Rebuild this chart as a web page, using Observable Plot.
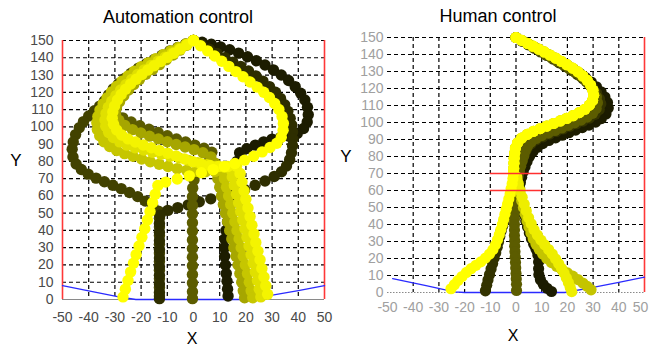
<!DOCTYPE html>
<html><head><meta charset="utf-8">
<script src="https://cdn.jsdelivr.net/npm/d3@7"></script>
<script src="https://cdn.jsdelivr.net/npm/@observablehq/plot@0.6"></script>
<style>
html,body{margin:0;padding:0;background:#fff;}
#wrap{position:relative;width:650px;height:349px;overflow:hidden;font-family:"Liberation Sans",Arial,sans-serif;}
.panel{position:absolute;top:0;}
#overlay{position:absolute;left:0;top:0;}
</style></head><body><div id="wrap"></div>
<script>
// ---------- tick labels ----------
const xTicks = [-50,-40,-30,-20,-10,0,10,20,30,40,50];
const yTicks = [0,10,20,30,40,50,60,70,80,90,100,110,120,130,140,150];
const xGrid = [-40,-30,-20,-10,0,10,20,30,40];
const yGrid = [10,20,30,40,50,60,70,80,90,100,110,120,130,140,150];
const titles = ["Automation control", "Human control"];

// ---------- boundary / target lines ----------
const blueLeft  = [[-50,8],[-40,5],[-29,1.7],[-22,0],[22,0],[29,2.2],[40,5.2],[50,8]];
const blueRight = [[-48,8.2],[-35,4],[-24,0.4],[-20,0],[19,0],[30,3],[40,5.9],[50,9]];
const redVerticalLeft = [-50, 50];
const redVerticalRight = [50];
const redGateY = [70, 60];
const redGateX = [-10, 10];

// ---------- Automation control trajectories ----------
const autoA = [[0,150],[3.3,149],[6.8,147.8],[10.3,146.3],[13.8,144.6],[17.2,142.7],[20.6,140.6],[24,138.3],[27.3,135.8],[30.5,133],[33.5,130],[36.3,126.8],[38.8,123.3],[40.9,119.5],[42.5,115.5],[43.5,111.3],[43.8,107],[43.4,102.8],[42,99],[39.6,96.2],[36.5,94.6],[33.2,93.8],[30,92.9],[26.8,91.3],[23.6,89.4],[20.4,87.4],[17.6,85],[16.6,80],[16.1,75],[15.6,70],[15.1,65],[14.6,60],[14.1,55],[13.6,50],[13,45],[12.4,40],[11.9,35],[11.8,30],[11.9,25],[12.2,20],[12.5,15],[12.8,10.5],[13,6],[13.2,2]];
const autoB = [[0,150],[3,147.5],[6,145],[9,142.5],[12,140],[15,137.5],[18,135],[21,132.3],[23.8,129.5],[26.5,126.5],[29,123.3],[31.3,120],[33.2,116.5],[34.8,112.8],[36,109],[36.9,105],[37.5,101],[37.8,97],[37.9,93],[37.8,89],[37.4,85],[36.7,81],[35.5,77.3],[33.6,74],[30.8,71.2],[27.3,68.6],[23.5,66.2],[19.5,63.7],[15.3,61.5],[11,59.8],[6.6,58.3],[2.2,56.6],[-2,54.8],[-6,53.2],[-9.8,51.6],[-12.8,48.8],[-13,44],[-13,39],[-13,34],[-13,29],[-13,24],[-13,19],[-13,14],[-13,9],[-13,4],[-13,0.5]];
const autoC = [[0,150],[-3,148],[-6,146],[-9,144],[-12,141.5],[-15,139],[-18,136.5],[-21,134],[-23.8,131],[-26.3,128],[-28.6,125],[-30.6,122],[-32.4,118.5],[-34,115],[-35.8,112],[-37.8,109.3],[-40,106.3],[-42,103],[-43.6,99.5],[-45,95.5],[-45.9,91.2],[-46.3,87],[-46,82.5],[-44.8,78.5],[-42.8,75.3],[-40.2,72.6],[-37.2,70.3],[-34,68.2],[-30.8,66.2],[-27.6,64.2],[-24.4,62],[-21.3,59.6],[-18.4,57],[-15.6,54.4],[-13.4,51.2],[-13,47],[-13,42],[-13,37],[-13,32],[-13,27],[-13,22],[-13,17],[-13,12],[-13,7],[-13,2]];
const autoO = [[0,150],[-2.8,147.5],[-5.6,145],[-8.4,142.5],[-11.2,140],[-14,137.5],[-16.8,135],[-19.5,132.4],[-22,129.6],[-24.3,126.6],[-26.3,123.4],[-28,120],[-29.6,116.5],[-31.2,113.2],[-31.5,110],[-29.6,107.4],[-27,105.2],[-23.8,102.8],[-20.5,100.6],[-17,98.6],[-13.5,96.7],[-10,94.8],[-6.5,93],[-3,91.2],[0.5,89.4],[4,87.6],[7,85.3],[6.2,81],[4,77.2],[1.8,73.4],[0.2,69.2],[-0.3,64.5],[-0.4,59.5],[-0.4,54.5],[-0.4,49.5],[-0.4,44.5],[-0.4,39.5],[-0.4,34.5],[-0.4,29.5],[-0.4,24.5],[-0.4,19.5],[-0.4,14.5],[-0.4,9.5],[-0.4,4.5],[-0.4,0.5]];
const autoY5 = [[0,150],[-2.6,147.2],[-5.2,144.4],[-7.8,141.6],[-10.4,138.8],[-13,136],[-15.6,133.2],[-18.2,130.4],[-20.6,127.5],[-22.8,124.5],[-24.8,121.3],[-26.6,118],[-28.2,114.6],[-29.4,111],[-29.8,107.3],[-28.5,103.8],[-26.2,100.8],[-23.3,98.4],[-20.1,96.4],[-16.8,94.6],[-13.4,93],[-10,91.4],[-6.6,89.8],[-3.2,88.3],[0.2,86.8],[3.6,85],[6.6,82.6],[8.2,79],[8.6,75],[9.3,70],[10,65],[10.7,60],[11.4,55],[12.2,50],[13,45],[13.8,40],[14.6,35],[15.4,30],[16.2,25],[17,20],[17.7,15],[18.4,10],[19,5],[19.5,1]];
const autoY4 = [[0,150],[-2.9,148],[-5.8,146],[-8.7,144],[-11.6,141.8],[-14.4,139.5],[-17.2,137.2],[-20,134.8],[-22.6,132.2],[-25,129.4],[-27.3,126.5],[-29.4,123.4],[-31.3,120.2],[-33,116.8],[-34.5,113.3],[-35.7,109.7],[-36.5,106],[-36.9,102.3],[-36.7,98.5],[-35.8,94.8],[-34.2,91.4],[-32,88.6],[-29.3,86.3],[-26.3,84.5],[-23.1,83],[-19.8,81.4],[-16.5,79.8],[-13.1,78.3],[-9.7,77],[-6.2,75.8],[-2.6,74.8],[1,74.2],[4.6,74],[8.2,74.2],[11,74.5],[11.8,70],[12.6,65],[13.4,60],[14.2,55],[15,50],[15.8,45],[16.6,40],[17.4,35],[18.2,30],[19,25],[19.8,20],[20.6,15],[21.3,10],[22,5],[22.6,1]];
const autoY3 = [[0,150],[-2.7,147.6],[-5.4,145.2],[-8.1,142.8],[-10.8,140.4],[-13.5,138],[-16.2,135.5],[-18.8,133],[-21.3,130.3],[-23.6,127.4],[-25.8,124.4],[-27.8,121.3],[-29.6,118.1],[-31.2,114.8],[-32.5,111.3],[-33.4,107.7],[-33.8,104],[-33.5,100.3],[-32.4,96.8],[-30.6,93.8],[-28.2,91.3],[-25.4,89.4],[-22.3,87.9],[-19,86.6],[-15.7,85.3],[-12.3,84.1],[-8.9,83],[-5.4,81.9],[-1.9,80.6],[1.6,79.3],[5.1,78],[8.6,77],[12,76.5],[14.2,75.5],[14.8,71],[15.6,66],[16.4,61],[17.2,56],[18,51],[18.8,46],[19.6,41],[20.4,36],[21.2,31],[22,26],[22.8,21],[23.6,16],[24.4,11],[25.1,6],[25.7,1.5]];
const autoY2 = [[0,150],[-2.5,147.5],[-5,145],[-7.5,142.6],[-10,140.2],[-12.5,137.8],[-15,135.4],[-17.4,132.9],[-19.7,130.3],[-21.9,127.6],[-24,124.8],[-25.9,121.8],[-27.6,118.7],[-29,115.5],[-30.1,112.1],[-30.8,108.6],[-31,105],[-30.5,101.5],[-29.3,98.2],[-27.4,95.3],[-25,93],[-22.2,91.2],[-19.2,89.5],[-16.1,87.9],[-13,86.3],[-9.8,84.7],[-6.6,83.1],[-3.4,81.4],[-0.2,79.8],[3,78.5],[6.3,77.6],[9.7,77.1],[13.1,77],[16.4,77.2],[17.8,73],[18.5,68],[19.3,63],[20,58],[20.8,53],[21.6,48],[22.3,43],[23.1,38],[23.8,33],[24.6,28],[25.4,23],[26.1,18],[26.9,13],[27.6,8],[28.3,3]];
const autoY1 = [[0,150],[2.7,147],[5.4,144],[8.1,141],[10.8,138],[13.5,135],[16.2,132],[18.9,129],[21.6,126],[24.3,123],[26.8,120],[29,117],[31,113.5],[32.6,110],[33.8,106],[34.3,102],[34.2,98],[33.5,94],[31.8,90.5],[29.2,88],[26.2,85.5],[23,83],[19.5,80.7],[15.8,78.8],[11.8,77],[7.5,75.2],[3,73.4],[-1.6,71.6],[-6.2,69.8],[-10.6,68],[-13.6,66],[-14.6,61],[-15.6,56],[-16.6,51],[-17.6,46],[-18.6,41],[-19.7,36],[-20.8,31],[-21.9,26],[-22.9,21],[-24,16],[-25,11],[-26,6],[-26.9,1.5]];
const autoColors = ["#424200","#1c1c00","#2e2e00","#5c5c00","#a6a600","#c6c600","#e0e000","#f4f400","#ffff00"];

// ---------- Human control trajectories ----------
const humUpperYellow = [[0,150],[2.2,148.3],[4.4,146.6],[6.6,144.9],[8.8,143.2],[11,141.5],[13.2,139.7],[15.4,137.9],[17.6,136],[19.8,134],[22,132],[24.1,129.8],[26,127.4],[27.7,124.8],[29,122],[29.9,119],[30.2,116],[29.8,113],[28.6,110.2],[26.8,107.8],[24.6,105.8],[22.2,104],[19.7,102.4],[17.2,100.9],[14.6,99.4],[12,97.9],[9.4,96.4],[6.8,94.8],[4.4,93],[2.2,90.8],[0.6,88],[-0.2,85],[-0.5,82],[-0.7,79],[-0.8,76],[-0.9,73],[-1,70]];
const humY1Lower = [[-1.2,67],[-1.5,64],[-1.9,61],[-2.3,58],[-2.8,55],[-3.3,52],[-3.8,49],[-4.3,46],[-4.8,43],[-5.3,40],[-5.9,37],[-6.5,34],[-7.2,31],[-8,28],[-9,25.2],[-10.3,22.6],[-11.9,20.2],[-13.7,18],[-15.6,16],[-17.5,14],[-19.3,11.8],[-21,9.4],[-22.6,7],[-24,4.6],[-25.3,2.2]];
const humY2Lower = [[0.3,68],[0.9,64],[1.6,60],[2.4,56],[3.2,52],[4,48],[4.9,44],[5.9,40.5],[7,37],[8.3,33.8],[9.7,30.8],[11.2,28],[12.7,25.3],[14.1,22.6],[15.4,19.8],[16.6,17],[17.7,14.2],[18.7,11.4],[19.6,8.6],[20.4,5.8],[21.1,3],[21.7,0.5]];
const humY3Lower = [[0.5,66],[1,62],[1.6,58],[2.2,54],[2.9,50],[3.6,46],[4.3,42],[5,38.5],[5.8,35],[6.7,31.6],[7.8,28.4],[9,25.4],[10.4,22.6],[12,20],[13.8,17.6],[15.8,15.4],[17.9,13.4],[20,11.5],[22.1,9.6],[24.1,7.6],[26,5.6],[27.7,3.6],[29.2,1.6]];
const humOlive = [[0,150],[2.3,148],[4.6,146],[6.9,144],[9.2,142],[11.5,140],[13.8,138],[16.1,136],[18.4,134],[20.7,131.8],[23,129.5],[25.2,127],[27.2,124.3],[29,121.4],[30.4,118.3],[31.3,115],[31.7,111.6],[31.2,108.2],[29.8,105.4],[27.7,103.2],[25.3,101.4],[22.8,99.8],[20.3,98.3],[17.8,96.8],[15.2,95.3],[12.6,93.8],[10,92.3],[7.8,90.6],[5.9,88.5],[4.5,86],[3.6,83.2],[3,80.3],[2.4,77.3],[1.8,74.3],[1.3,71.2],[0.8,68.1],[0.4,65],[0,61.9],[-0.3,58.8],[-0.5,55.7],[-0.6,52.6],[-0.6,49.5],[-0.6,46.4],[-0.6,43.2],[-0.6,40],[-0.6,36.8],[-0.6,33.6],[-0.5,30.4],[-0.5,27.2],[-0.4,24],[-0.3,20.8],[-0.2,17.6],[-0.1,14.4],[0,11.2],[0.1,8],[0.2,4.8],[0.2,1.2]];
const humDark = [[0,150],[2.4,147.8],[4.8,145.7],[7.2,143.6],[9.6,141.5],[12,139.4],[14.4,137.3],[16.8,135.1],[19.2,132.9],[21.6,130.6],[23.9,128.2],[26.1,125.7],[28.1,123],[29.9,120.2],[31.4,117.2],[32.5,113.9],[33,111],[32.4,107.6],[30.8,104.8],[28.6,102.6],[26.1,100.8],[23.5,99.2],[20.9,97.7],[18.3,96.2],[15.7,94.7],[13.1,93.2],[10.5,91.6],[8,89.8],[5.9,87.5],[4.4,84.8],[3.4,81.8],[2.7,78.7],[2,75.6],[1.4,72.5],[0.8,69.4],[0.2,66.3],[-0.4,63.2],[-1,60.1],[-1.6,57],[-2.2,54],[-2.8,51],[-3.4,48],[-4,45],[-4.6,42],[-5.2,39],[-5.8,36],[-6.3,33],[-6.8,29.8],[-7.3,26.6],[-7.9,23.4],[-8.5,20.2],[-9.1,17],[-9.7,13.8],[-10.3,10.6],[-10.9,7.4],[-11.4,4.2],[-11.9,1]];
const humDarkest = [[0,150],[2.5,148],[5,146],[7.5,144],[10,142],[12.5,140],[15,137.9],[17.5,135.8],[20,133.6],[22.4,131.3],[24.8,128.9],[27.1,126.4],[29.3,123.8],[31.3,121],[33.1,118.1],[34.6,115],[35.6,111.8],[35.9,108.5],[35,105],[33.2,102.3],[31,100.2],[28.4,98.5],[25.8,97],[23.2,95.5],[20.6,94],[18,92.5],[15.4,91],[12.8,89.4],[10.4,87.6],[8.3,85.4],[6.6,82.9],[5.3,80.1],[4.3,77.1],[3.5,74],[2.8,70.9],[2.2,67.8],[1.7,64.7],[1.4,61.5],[1.4,58],[1.8,54],[2.4,50],[3.1,46],[3.8,42],[4.5,38.5],[5.2,35],[6,31.6],[6.9,28.4],[7.8,25.4],[8.5,22],[8.8,18],[8.8,14],[8.9,10.5],[9.5,7.5],[10.6,4.8],[12.1,2.5],[13.8,0.6]];
const humColors = ["#1c1c00","#333300","#5c5c00","#c4c400","#eeee00","#ffff00"];

// ---------- build ----------
const autoSeries = [autoC, autoA, autoB, autoO, autoY5, autoY4, autoY3, autoY2, autoY1];
const humSeries = [
  humDarkest, humDark, humOlive,
  humUpperYellow.concat(humY3Lower),
  humUpperYellow.concat(humY2Lower),
  humUpperYellow.concat(humY1Lower)
];

const px = d => d[0], py = d => d[1];
const fontFam = '"Liberation Sans", Arial, sans-serif';

function panel({series, colors, r, blue, redV, gate, labelColor, mt, mb, w, h, padX, padY, axisDash}) {
  const marks = [
    Plot.gridX(xGrid, {stroke: "#000", strokeOpacity: 1, strokeWidth: 1.2, strokeDasharray: "4,3"}),
    Plot.gridY(yGrid, {stroke: "#000", strokeOpacity: 1, strokeWidth: 1.2, strokeDasharray: "4,3"}),
    Plot.ruleY([0], {stroke: "#8a8a8a", strokeWidth: 1.2, strokeDasharray: axisDash}),
    Plot.ruleX(redV, {stroke: "#ff3838", strokeWidth: 1.6}),
    Plot.line(blue, {x: px, y: py, stroke: "#2a2aff", strokeWidth: 1.3}),
    ...series.map((s, i) => Plot.dot(s, {x: px, y: py, r, fill: colors[i], stroke: "none"})),
    Plot.axisX(xTicks, {tickSize: 0, tickPadding: padX, tickFormat: d => String(d), label: null}),
    Plot.axisY(yTicks, {tickSize: 0, tickPadding: padY, tickFormat: d => String(d), label: null})
  ];
  if (gate) marks.push(Plot.ruleY(gate, {x1: redGateX[0], x2: redGateX[1], stroke: "#ff3030", strokeWidth: 1.6}));
  return Plot.plot({
    width: w, height: h,
    marginLeft: 62, marginRight: 6, marginTop: mt, marginBottom: mb,
    x: {domain: [-50, 50], label: null},
    y: {domain: [0, 150], label: null},
    style: {fontFamily: fontFam, fontSize: "14px", color: labelColor, background: "transparent", overflow: "visible"},
    marks
  });
}

const wrap = document.getElementById("wrap");

const left = panel({series: autoSeries, colors: autoColors, r: 5.7, blue: blueLeft, redV: redVerticalLeft,
  gate: null, labelColor: "#4a4a4a", mt: 40, mb: 31, w: 330, h: 330, padX: 13, padY: 9, axisDash: null});
left.classList.add("panel"); left.style.left = "0px";
wrap.appendChild(left);

const right = panel({series: humSeries, colors: humColors, r: 5.6, blue: blueRight, redV: redVerticalRight,
  gate: redGateY, labelColor: "#a0a0a0", mt: 37, mb: 28, w: 325, h: 320, padX: 10, padY: 4, axisDash: "1.5,1.5"});
right.classList.add("panel"); right.style.left = "325px";
wrap.appendChild(right);

// keep the last right-hand x tick label inside the window
const rLabels = right.querySelectorAll('g[aria-label="x-axis tick label"] text');
if (rLabels.length) rLabels[rLabels.length - 1].setAttribute("dx", "-4");

// titles and axis letters
const ov = d3.create("svg").attr("id", "overlay").attr("width", 650).attr("height", 349)
  .style("font-family", fontFam).style("pointer-events", "none");
const texts = [
  {t: titles[0], x: 178, y: 23, s: 18},
  {t: titles[1], x: 498, y: 22, s: 18},
  {t: "Y", x: 16, y: 166, s: 17},
  {t: "X", x: 192, y: 344, s: 16},
  {t: "Y", x: 346, y: 162, s: 17},
  {t: "X", x: 513, y: 341, s: 16}
];
ov.selectAll("text").data(texts).join("text")
  .attr("x", d => d.x).attr("y", d => d.y).attr("text-anchor", "middle")
  .attr("font-size", d => d.s).attr("fill", "#000").text(d => d.t);
wrap.appendChild(ov.node());
</script></body></html>
